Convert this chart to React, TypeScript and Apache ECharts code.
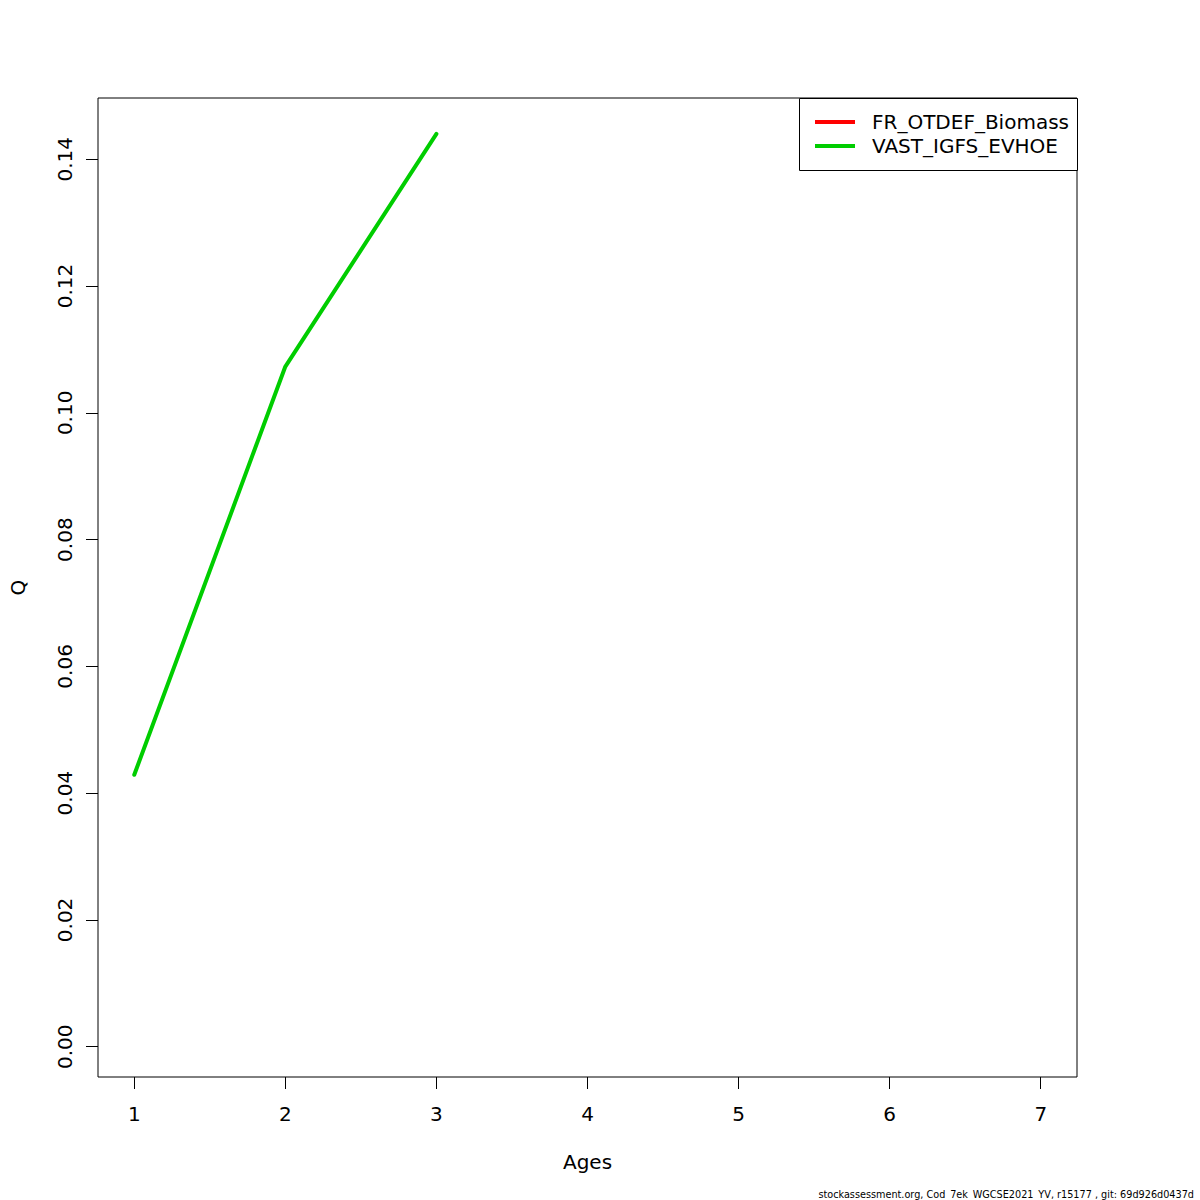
import React, { useEffect, useRef } from "react";
import * as echarts from "echarts";

const ages = [1, 2, 3];
const frOtdefBiomass: number[] = [];
const vastIgfsEvhoe = [0.0429, 0.1073, 0.144];
const xTicks = [1, 2, 3, 4, 5, 6, 7];
const yTicks = [0, 0.02, 0.04, 0.06, 0.08, 0.1, 0.12, 0.14];
const seriesNames = ["FR_OTDEF_Biomass", "VAST_IGFS_EVHOE"];
const footer = "stockassessment.org, Cod_7ek_WGCSE2021_YV, r15177 , git: 69d926d0437d";

const FONT = "DejaVu Sans";

export default function App() {
  const ref = useRef<HTMLDivElement>(null);
  useEffect(() => {
    if (!ref.current) return;
    const chart = echarts.init(ref.current, undefined, { renderer: "svg" });
    chart.setOption({
      animation: false,
      backgroundColor: "#ffffff",
      textStyle: { fontFamily: FONT },
      grid: {
        left: 98,
        top: 98,
        right: 123,
        bottom: 123,
        show: true,
        borderColor: "#000",
        borderWidth: 1,
        backgroundColor: "transparent",
      },
      xAxis: {
        type: "value",
        min: 0.76,
        max: 7.24,
        position: "bottom",
        name: "Ages",
        nameLocation: "middle",
        nameGap: 75,
        nameTextStyle: { fontSize: 20, color: "#000", fontFamily: FONT },
        axisLine: { show: false, onZero: false },
        splitLine: { show: false },
        axisTick: {
          show: true,
          length: 12,
          lineStyle: { color: "#000", width: 1 },
          customValues: xTicks,
        },
        axisLabel: {
          fontSize: 20,
          color: "#000",
          margin: 27,
          fontFamily: FONT,
          customValues: xTicks,
          formatter: (v: number) => String(v),
        },
      },
      yAxis: {
        type: "value",
        min: -0.00478,
        max: 0.14967,
        position: "left",
        name: "Q",
        nameLocation: "middle",
        nameGap: 70,
        nameRotate: 90,
        nameTextStyle: { fontSize: 20, color: "#000", fontFamily: FONT },
        axisLine: { show: false, onZero: false },
        splitLine: { show: false },
        axisTick: {
          show: true,
          length: 12,
          lineStyle: { color: "#000", width: 1 },
          customValues: yTicks,
        },
        axisLabel: {
          fontSize: 20,
          color: "#000",
          margin: 23,
          rotate: 90,
          fontFamily: FONT,
          customValues: yTicks,
          formatter: (v: number) => v.toFixed(2),
        },
      },
      legend: {
        orient: "vertical",
        left: 815,
        top: 112,
        itemWidth: 40,
        itemHeight: 4,
        itemGap: 4,
        padding: 0,
        icon: "rect",
        data: seriesNames,
        textStyle: {
          fontSize: 20,
          color: "#000",
          fontFamily: FONT,
          lineHeight: 20,
          padding: [0, 0, 0, 12],
        },
      },
      graphic: [
        {
          type: "rect",
          shape: { x: 799.5, y: 98.5, width: 278, height: 72 },
          style: { fill: "#fff", stroke: "#000", lineWidth: 1 },
          z: 0,
          zlevel: 0,
        },
        {
          type: "text",
          right: 6,
          top: 1189,
          style: {
            text: footer,
            fontSize: 9.7,
            fontFamily: FONT,
            fill: "#000",
          },
        },
      ],
      series: [
        {
          name: seriesNames[0],
          type: "line",
          data: frOtdefBiomass.map((v, i) => [ages[i], v]),
          color: "#FF0000",
          showSymbol: false,
          lineStyle: { width: 4, cap: "round", join: "round", color: "#FF0000" },
        },
        {
          name: seriesNames[1],
          type: "line",
          data: vastIgfsEvhoe.map((v, i) => [ages[i], v]),
          color: "#00CD00",
          showSymbol: false,
          lineStyle: { width: 4, cap: "round", join: "round", color: "#00CD00" },
        },
      ],
    });
    return () => chart.dispose();
  }, []);
  return (
    <div
      ref={ref}
      style={{ position: "absolute", left: 0, top: 0, width: 1200, height: 1200 }}
    />
  );
}
